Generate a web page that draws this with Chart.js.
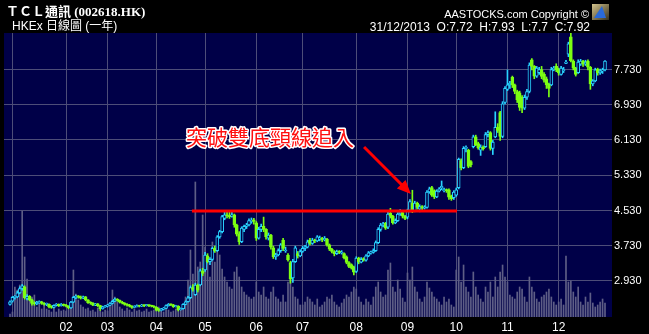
<!DOCTYPE html>
<html>
<head>
<meta charset="utf-8">
<script src="https://cdn.jsdelivr.net/npm/chart.js@4.4.0/dist/chart.umd.min.js"></script>
<style>
  html, body { margin: 0; padding: 0; background: #000; overflow: hidden; }
</style>
</head>
<body>
<canvas id="mainChart" width="649" height="334"></canvas>
<script>
// TCL通訊 (002618.HK) 日線 31/12/2012 - 31/12/2013, one row per month
const openPrices = [
  2.40,2.47,2.56,2.57,2.66,2.76,2.80,2.54,2.58,2.50,2.42,2.41,2.44,2.46,2.42,2.40,2.40,2.35,2.33,2.38,2.40,2.37,2.40,
  2.38,2.36,2.32,2.45,2.55,2.59,2.57,2.54,2.57,2.50,2.44,2.43,2.38,2.41,2.37,2.30,2.34,
  2.36,2.38,2.42,2.47,2.52,2.49,2.45,2.43,2.40,2.38,2.36,2.33,2.35,2.37,2.36,2.38,2.37,2.38,2.37,2.36,
  2.34,2.29,2.26,2.29,2.31,2.37,2.40,2.39,2.35,2.36,2.28,2.30,2.40,2.46,2.55,2.78,2.62,2.84,2.84,3.16,
  3.18,3.50,3.37,3.42,3.67,3.62,3.93,4.05,4.35,4.43,4.41,4.40,4.43,4.20,4.00,3.82,4.10,4.17,4.20,4.28,4.32,
  4.25,3.90,4.10,4.17,4.10,3.90,3.97,3.68,3.48,3.52,3.62,3.86,3.61,3.52,3.35,3.00,3.37,3.55,3.50,
  3.60,3.67,3.70,3.86,3.78,3.86,3.84,3.88,3.90,3.86,3.88,3.75,3.65,3.60,3.55,3.60,3.56,3.55,3.48,3.35,3.30,3.25,
  3.15,3.45,3.36,3.44,3.40,3.50,3.57,3.58,3.62,3.80,4.10,4.20,4.24,4.15,4.47,4.40,4.25,4.30,4.45,4.48,4.40,
  4.38,4.53,4.70,4.52,4.70,4.56,4.62,4.58,4.60,4.95,5.05,4.98,4.84,4.97,5.04,4.98,5.00,5.00,4.86,4.82,
  4.88,5.05,5.66,5.50,5.94,5.90,5.64,5.98,6.20,6.05,5.90,5.97,5.98,6.25,6.30,5.94,6.20,6.42,6.75,6.21,6.98,
  7.28,7.38,7.55,7.38,7.23,7.20,7.10,6.85,7.10,7.23,7.95,7.80,7.58,7.66,7.73,7.62,7.52,7.40,7.38,7.73,7.80,
  7.74,7.62,7.70,7.87,8.08,8.47,7.92,7.76,7.66,7.85,7.92,7.85,7.92,7.78,7.40,7.47,7.74,7.65,7.70,7.72
];
const highPrices = [
  2.48,2.58,2.60,2.70,2.80,2.85,2.82,2.62,2.60,2.52,2.46,2.47,2.48,2.47,2.44,2.43,2.41,2.37,2.39,2.42,2.41,2.42,2.41,
  2.40,2.37,2.47,2.58,2.61,2.60,2.59,2.59,2.58,2.51,2.46,2.44,2.42,2.42,2.38,2.36,2.38,
  2.40,2.44,2.49,2.54,2.53,2.50,2.47,2.44,2.42,2.40,2.37,2.37,2.39,2.38,2.40,2.39,2.40,2.39,2.38,2.37,
  2.35,2.31,2.31,2.33,2.39,2.42,2.41,2.40,2.38,2.37,2.32,2.42,2.48,2.58,2.82,2.85,2.88,2.86,3.20,3.22,
  3.58,3.55,3.46,3.70,3.72,3.96,4.08,4.42,4.52,4.50,4.52,4.52,4.45,4.22,4.05,4.16,4.20,4.24,4.34,4.36,4.35,
  4.28,4.15,4.22,4.38,4.12,4.02,3.99,3.72,3.56,3.66,3.78,3.90,3.70,3.55,3.38,3.42,3.72,3.60,3.64,
  3.72,3.74,3.86,3.90,3.90,3.88,3.96,3.95,3.92,3.94,3.90,3.77,3.67,3.62,3.63,3.62,3.62,3.57,3.50,3.37,3.32,3.27,
  3.48,3.47,3.46,3.46,3.53,3.60,3.61,3.66,3.84,4.14,4.24,4.26,4.26,4.50,4.58,4.42,4.34,4.48,4.55,4.50,4.42,
  4.56,4.78,4.99,4.74,4.72,4.66,4.64,4.64,4.98,5.06,5.08,5.00,5.00,5.05,5.20,5.04,5.02,5.02,4.88,4.98,
  5.04,5.72,5.70,5.98,6.00,5.92,5.66,6.24,6.24,6.08,6.02,6.00,6.30,6.34,6.32,6.12,6.77,6.50,6.78,7.00,7.34,
  7.72,7.46,7.58,7.40,7.26,7.24,7.14,7.15,7.28,7.88,7.98,7.82,7.80,7.78,7.80,7.66,7.56,7.42,7.78,7.80,7.86,
  7.76,7.80,7.78,7.94,8.35,8.55,7.95,7.78,7.95,7.96,7.94,7.94,7.95,7.80,7.50,7.76,7.76,7.74,7.76,7.93
];
const lowPrices = [
  2.38,2.45,2.52,2.55,2.64,2.72,2.52,2.50,2.48,2.38,2.38,2.39,2.42,2.40,2.38,2.37,2.32,2.31,2.32,2.36,2.35,2.36,2.36,
  2.34,2.30,2.31,2.44,2.53,2.54,2.52,2.53,2.48,2.42,2.40,2.37,2.37,2.35,2.26,2.29,2.33,
  2.34,2.37,2.41,2.46,2.47,2.43,2.41,2.38,2.36,2.34,2.31,2.32,2.34,2.34,2.35,2.35,2.36,2.35,2.34,2.32,
  2.25,2.24,2.25,2.27,2.30,2.36,2.37,2.33,2.34,2.25,2.27,2.29,2.39,2.45,2.53,2.70,2.60,2.68,2.82,3.05,
  3.15,3.34,3.30,3.40,3.58,3.60,3.90,4.02,4.32,4.36,4.35,4.38,4.15,3.95,3.76,3.80,4.05,4.12,4.18,4.24,4.22,
  3.85,3.88,4.05,4.05,3.88,3.86,3.65,3.44,3.42,3.50,3.58,3.62,3.58,3.38,2.88,2.90,3.35,3.45,3.48,
  3.58,3.62,3.68,3.75,3.76,3.80,3.82,3.84,3.82,3.84,3.72,3.62,3.57,3.50,3.53,3.55,3.54,3.43,3.32,3.23,3.20,3.07,
  3.12,3.32,3.34,3.38,3.38,3.48,3.54,3.56,3.60,3.78,4.06,4.16,4.10,4.12,4.36,4.22,4.23,4.28,4.42,4.36,4.32,
  4.34,4.50,4.48,4.50,4.56,4.50,4.54,4.56,4.58,4.92,4.85,4.80,4.82,4.95,5.00,4.95,4.94,4.78,4.76,4.78,
  4.85,5.02,5.45,5.48,5.86,5.50,5.52,5.95,6.00,5.92,5.78,5.90,5.96,6.20,5.90,5.80,6.18,6.30,6.12,6.18,6.95,
  7.25,7.30,7.32,7.18,6.98,6.80,6.75,6.82,7.05,7.20,7.72,7.52,7.55,7.62,7.52,7.44,7.30,7.11,7.36,7.70,7.68,
  7.60,7.60,7.66,7.86,8.02,7.90,7.72,7.58,7.64,7.82,7.80,7.82,7.72,7.28,7.36,7.45,7.60,7.62,7.64,7.70
];
const closePrices = [
  2.46,2.56,2.57,2.66,2.76,2.82,2.55,2.58,2.50,2.42,2.41,2.45,2.46,2.42,2.40,2.41,2.34,2.33,2.38,2.40,2.37,2.40,2.38,
  2.36,2.32,2.45,2.56,2.59,2.57,2.54,2.57,2.50,2.44,2.43,2.38,2.41,2.37,2.30,2.34,2.36,
  2.38,2.42,2.47,2.52,2.49,2.45,2.43,2.40,2.38,2.36,2.33,2.35,2.37,2.36,2.38,2.37,2.38,2.37,2.36,2.34,
  2.27,2.26,2.29,2.31,2.37,2.40,2.39,2.35,2.36,2.28,2.30,2.40,2.46,2.55,2.78,2.74,2.84,2.72,3.16,3.10,
  3.52,3.37,3.42,3.67,3.62,3.93,4.05,4.39,4.43,4.41,4.39,4.43,4.20,3.99,3.82,4.13,4.17,4.20,4.30,4.31,4.28,
  3.90,4.10,4.17,4.10,3.93,3.97,3.70,3.48,3.52,3.62,3.75,3.67,3.63,3.41,2.98,3.37,3.68,3.50,3.60,
  3.67,3.70,3.82,3.78,3.86,3.84,3.93,3.90,3.86,3.90,3.75,3.65,3.60,3.55,3.60,3.58,3.58,3.46,3.35,3.26,3.22,3.13,
  3.45,3.36,3.42,3.40,3.50,3.57,3.58,3.62,3.80,4.10,4.20,4.22,4.13,4.45,4.40,4.25,4.30,4.45,4.50,4.40,4.35,
  4.53,4.73,4.52,4.70,4.60,4.62,4.58,4.60,4.95,5.02,4.88,4.84,4.97,5.02,5.08,5.00,4.98,4.83,4.80,4.95,
  5.00,5.69,5.50,5.94,5.96,5.53,5.57,6.20,6.02,5.95,5.97,5.93,6.25,6.30,5.94,6.08,6.42,6.35,6.21,6.95,7.30,
  7.38,7.42,7.38,7.23,7.04,6.87,6.85,7.10,7.23,7.83,7.80,7.58,7.76,7.73,7.57,7.49,7.38,7.30,7.73,7.76,7.72,
  7.65,7.76,7.73,7.90,8.31,7.93,7.76,7.62,7.90,7.92,7.85,7.90,7.78,7.40,7.47,7.72,7.65,7.70,7.72,7.92
];
// 成交量 (百萬股)
const volumes = [
  0.3,0.5,3.0,2.7,3.2,10.6,6.0,3.8,1.7,2.0,2.2,1.0,1.3,0.8,1.2,0.8,0.7,0.5,0.9,0.5,0.8,0.6,0.7,
  0.6,0.8,1.5,4.7,2.3,1.7,1.2,1.0,0.8,0.9,0.6,0.7,0.5,0.9,0.6,0.5,0.7,
  0.6,1.2,2.7,2.0,1.5,1.0,0.8,0.6,0.9,0.7,0.5,0.8,0.6,0.7,0.5,0.6,0.8,0.5,0.6,0.7,
  0.8,1.0,0.6,0.5,0.9,0.7,0.5,0.6,0.8,1.0,0.7,1.2,2.0,3.7,6.7,4.3,13.5,5.0,5.5,10.2,
  7.0,6.0,4.0,7.5,5.5,7.0,6.2,4.8,4.0,3.5,3.0,2.8,4.5,5.0,4.0,3.0,2.5,2.2,2.0,1.8,2.0,
  3.5,2.5,2.2,3.0,2.0,1.8,2.5,3.0,2.0,1.8,1.5,2.2,1.5,3.5,4.8,3.0,2.0,1.8,1.2,
  1.2,1.5,2.0,1.8,1.5,1.2,1.8,1.0,1.2,1.5,2.0,1.8,2.2,1.5,1.2,1.0,1.4,1.8,2.2,2.0,2.5,3.0,
  2.8,2.0,1.5,1.2,1.8,1.5,1.2,2.0,3.0,3.5,2.5,2.0,2.2,4.7,5.4,3.0,2.5,3.7,2.8,1.9,1.5,
  4.4,3.7,5.0,3.0,2.5,1.8,1.5,2.0,3.5,2.9,2.5,2.0,1.8,1.5,1.2,2.0,1.5,1.8,1.2,1.0,
  4.7,6.0,3.5,5.2,3.0,2.5,2.0,4.5,3.0,2.2,1.8,1.5,3.0,2.5,3.5,2.0,4.0,3.0,4.5,5.2,4.0,
  3.5,2.2,2.0,1.8,2.5,3.0,2.8,2.0,1.5,4.0,3.0,2.5,1.8,1.5,2.0,2.2,2.5,2.8,2.0,1.5,1.2,
  1.5,1.8,1.2,6.1,3.5,3.6,2.5,2.0,3.0,1.5,1.2,2.0,1.5,2.4,1.4,1.0,1.2,1.5,1.8,1.4
];

// 每月首個交易日 (index) 及月份標籤
const monthStarts = [1, 23, 40, 60, 80, 101, 120, 142, 163, 183, 204, 225];
const monthLabels = ['', '02', '03', '04', '05', '06', '07', '08', '09', '10', '11', '12'];
const priceTicks = [2.93, 3.73, 4.53, 5.33, 6.13, 6.93, 7.73];

// 頸線及標註
const necklineStart = 74.6, necklineEnd = 183.3, necklinePrice = 4.518;
const noteText = '突破雙底頸線追入';
const notePos = { x: 72.2, y: 6.2 };
const arrowFrom = { x: 145.2, y: 5.97 };
const arrowTo = { x: 164.4, y: 4.905 };

const UP = '#29d3ff';
const DOWN = '#7dff12';
const NAVY = '#000048';
const GRID = '#4d4d78';

const idx = closePrices.map((_, i) => i);
const isUp = idx.map(i => closePrices[i] >= openPrices[i]);

// 背景 + 標題文字
const frame = {
    id: 'frame',
    beforeDraw(chart) {
        const { ctx, chartArea: a } = chart;
        ctx.save();
        ctx.fillStyle = '#000';
        ctx.fillRect(0, 0, chart.width, chart.height);
        ctx.fillStyle = NAVY;
        ctx.fillRect(a.left, a.top, a.right - a.left, a.bottom - a.top);
        ctx.restore();
    },
    afterDraw(chart) {
        const { ctx } = chart;
        ctx.save();
        ctx.fillStyle = '#fff';
        ctx.textBaseline = 'alphabetic';
        ctx.textAlign = 'left';
        ctx.font = 'bold 13px "Noto Sans CJK TC"';
        ctx.fillText('ＴＣＬ通訊', 6, 16);
        let w = ctx.measureText('ＴＣＬ通訊').width;
        ctx.font = 'bold 13px "Liberation Serif"';
        ctx.fillText(' (002618.HK)', 6 + w, 16);
        ctx.font = '12px "Liberation Sans", "Noto Sans CJK TC"';
        ctx.fillText('HKEx 日線圖 (一年)', 12, 30);

        ctx.textAlign = 'right';
        ctx.font = '11px "Liberation Sans"';
        ctx.fillText('AASTOCKS.com Copyright \u00A9', 589, 18);
        ctx.font = '12px "Liberation Sans"';
        ctx.fillText('31/12/2013  O:7.72  H:7.93  L:7.7  C:7.92', 590, 31);

        // logo
        const g = ctx.createLinearGradient(592, 3, 608, 20);
        g.addColorStop(0, '#d8c890');
        g.addColorStop(1, '#3a3420');
        ctx.fillStyle = g;
        ctx.fillRect(592, 4, 17, 16);
        ctx.fillStyle = '#2a6ad8';
        ctx.beginPath();
        ctx.moveTo(594, 18); ctx.lineTo(602, 6); ctx.lineTo(606, 18); ctx.closePath();
        ctx.fill();
        ctx.restore();
    }
};

// 紅字標註及箭咀
const note = {
    id: 'note',
    afterDatasetsDraw(chart) {
        const { ctx, scales: { x, y } } = chart;
        ctx.save();
        ctx.font = '21px "Noto Sans CJK TC"';
        ctx.textBaseline = 'middle';
        ctx.textAlign = 'left';
        ctx.lineJoin = 'round';
        ctx.lineWidth = 3;
        ctx.strokeStyle = '#ffffff';
        const tx = x.getPixelForValue(notePos.x), ty = y.getPixelForValue(notePos.y);
        ctx.strokeText(noteText, tx, ty);
        ctx.fillStyle = '#ff1010';
        ctx.fillText(noteText, tx, ty);

        const x0 = x.getPixelForValue(arrowFrom.x), y0 = y.getPixelForValue(arrowFrom.y);
        const x1 = x.getPixelForValue(arrowTo.x), y1 = y.getPixelForValue(arrowTo.y);
        const ang = Math.atan2(y1 - y0, x1 - x0);
        const head = 15;
        ctx.strokeStyle = '#ff0000';
        ctx.lineWidth = 3;
        ctx.beginPath();
        ctx.moveTo(x0, y0);
        ctx.lineTo(x1 - head * 0.8 * Math.cos(ang), y1 - head * 0.8 * Math.sin(ang));
        ctx.stroke();
        ctx.fillStyle = '#ff0000';
        ctx.beginPath();
        ctx.moveTo(x1, y1);
        ctx.lineTo(x1 - head * Math.cos(ang - 0.42), y1 - head * Math.sin(ang - 0.42));
        ctx.lineTo(x1 - head * Math.cos(ang + 0.42), y1 - head * Math.sin(ang + 0.42));
        ctx.closePath();
        ctx.fill();
        ctx.restore();
    }
};

new Chart(document.getElementById('mainChart').getContext('2d'), {
    data: {
        datasets: [
            {
                type: 'line',
                data: [{ x: necklineStart, y: necklinePrice }, { x: necklineEnd, y: necklinePrice }],
                borderColor: '#ff0000',
                borderWidth: 3,
                pointRadius: 0,
                order: 0
            },
            {
                type: 'bar',
                data: idx.map(i => ({ x: i, y: [openPrices[i], closePrices[i]] })),
                backgroundColor: idx.map(i => isUp[i] ? NAVY : DOWN),
                borderColor: idx.map(i => isUp[i] ? UP : DOWN),
                borderWidth: 1,
                borderSkipped: false,
                barThickness: 3,
                minBarLength: 1,
                grouped: false,
                order: 1
            },
            {
                type: 'bar',
                data: idx.map(i => ({ x: i, y: [lowPrices[i], highPrices[i]] })),
                backgroundColor: idx.map(i => isUp[i] ? UP : DOWN),
                borderWidth: 0,
                barThickness: 1,
                grouped: false,
                order: 2
            },
            {
                type: 'bar',
                data: idx.map(i => ({ x: i, y: volumes[i] })),
                yAxisID: 'yv',
                backgroundColor: '#5e5e86',
                borderWidth: 0,
                barThickness: 1,
                grouped: false,
                order: 3
            }
        ]
    },
    options: {
        responsive: false,
        animation: false,
        devicePixelRatio: 1,
        layout: { padding: { left: 4, top: 33, right: 0, bottom: 0 } },
        plugins: { legend: { display: false }, tooltip: { enabled: false } },
        scales: {
            x: {
                type: 'linear',
                offset: false,
                min: -2.46,
                max: 246.87,
                grid: { color: GRID, drawTicks: false, lineWidth: 1, offset: false },
                border: { display: false },
                afterBuildTicks: ax => { ax.ticks = monthStarts.map(v => ({ value: v })); },
                afterFit: ax => { ax.height = 17; },
                ticks: {
                    color: '#fff',
                    padding: 3,
                    autoSkip: false,
                    maxRotation: 0,
                    font: { family: 'Liberation Sans', size: 12 },
                    callback: v => monthLabels[monthStarts.indexOf(v)]
                }
            },
            y: {
                position: 'right',
                min: 2.113,
                max: 8.558,
                grid: { color: GRID, drawTicks: false, lineWidth: 1 },
                border: { display: false },
                afterBuildTicks: ax => { ax.ticks = priceTicks.map(v => ({ value: v })); },
                afterFit: ax => { ax.width = 37; },
                ticks: {
                    color: '#fff',
                    padding: 2,
                    font: { family: 'Liberation Sans', size: 11 },
                    callback: v => Number(v).toFixed(3)
                }
            },
            yv: { display: false, min: 0, max: 28.4 }
        }
    },
    plugins: [frame, note]
});
</script>
</body>
</html>
